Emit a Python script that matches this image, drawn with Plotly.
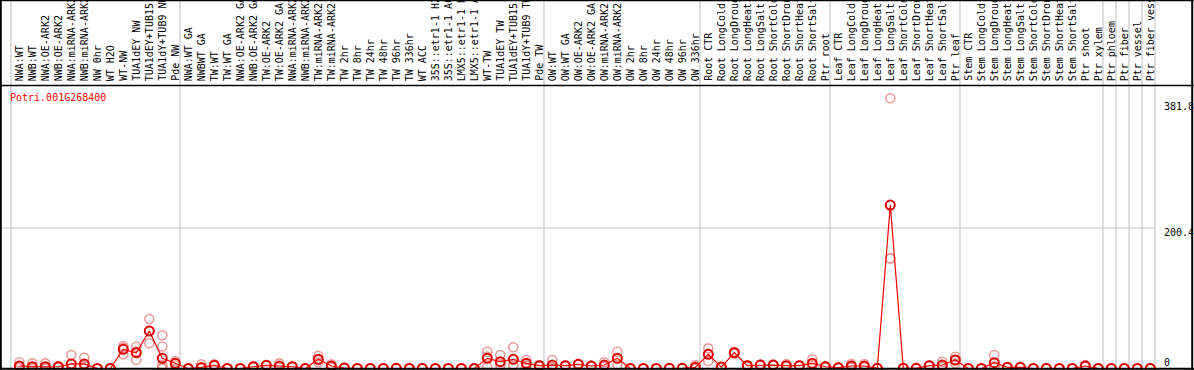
import plotly.graph_objects as go

gene_id = "Potri.001G268400"

group_sizes = [13, 28, 12, 10, 10, 11, 1, 1, 1, 1]

samples = [
    "NWA:WT", "NWB:WT", "NWA:OE-ARK2", "NWB:OE-ARK2", "NWA:miRNA-ARK2", "NWB:miRNA-ARK2",
    "NW 0hr", "WT H2O", "WT-NW", "TUA1dEY NW", "TUA1dEY+TUB15", "TUA1dY+TUB9 NW", "Pde NW",
    "NWA:WT GA", "NWBWT GA", "TW:WT", "TW:WT GA", "NWA:OE-ARK2 GA", "NWB:OE-ARK2 GA",
    "TW:OE-ARK2", "TW:OE-ARK2 GA", "NWA:miRNA-ARK2", "NWB:miRNA-ARK2", "TW:miRNA-ARK2",
    "TW:miRNA-ARK2", "TW 2hr", "TW 8hr", "TW 24hr", "TW 48hr", "TW 96hr", "TW 336hr",
    "WT ACC", "35S::etr1-1 H2O", "35S::etr1-1 ACC", "LMX5::etr1-1 H2O", "LMX5::etr1-1 ACC",
    "WT-TW", "TUA1dEY TW", "TUA1dEY+TUB15", "TUA1dY+TUB9 TW", "Pde TW",
    "OW:WT", "OW:WT GA", "OW:OE-ARK2", "OW:OE-ARK2 GA", "OW:miRNA-ARK2", "OW:miRNA-ARK2",
    "OW 2hr", "OW 8hr", "OW 24hr", "OW 48hr", "OW 96hr", "OW 336hr",
    "Root CTR", "Root LongCold", "Root LongDrought", "Root LongHeat", "Root LongSalt",
    "Root ShortCold", "Root ShortDrought", "Root ShortHeat", "Root ShortSalt", "Ptr root",
    "Leaf CTR", "Leaf LongCold", "Leaf LongDrought", "Leaf LongHeat", "Leaf LongSalt",
    "Leaf ShortCold", "Leaf ShortDrought", "Leaf ShortHeat", "Leaf ShortSalt", "Ptr leaf",
    "Stem CTR", "Stem LongCold", "Stem LongDrought", "Stem LongHeat", "Stem LongSalt",
    "Stem ShortCold", "Stem ShortDrought", "Stem ShortHeat", "Stem ShortSalt", "Ptr shoot",
    "Ptr xylem", "Ptr phloem", "Ptr fiber", "Ptr vessel", "Ptr fiber vessel",
]

means = [
    3.5, 2.5, 2.5, 2.5, 6.4, 6.4, 0, 0, 27.1, 22.3, 53.0, 14.4, 7.3,
    0, 1.5, 4.5, 0, 0, 2.5, 4.5, 3.5, 2.5, 0, 13.0, 3.5, 0.7, 0, 0, 0, 0.3, 0,
    0, 0, 0, 0, 0, 14.4, 9.6, 13.0, 7.3, 4.0,
    4.9, 4.0, 5.9, 3.5, 4.9, 14.4, 0, 0, 0, 0.2, 0.2, 1.6,
    20.0, 2.0, 22.3, 4.0, 4.9, 4.9, 4.0, 4.0, 7.3, 2.5,
    1.2, 3.5, 3.5, 0.2, 231.0, 0.2, 0.2, 4.0, 4.9, 12.0,
    0, 0, 8.2, 1.6, 1.6, 0, 0, 0, 0, 3.5, 0,
    0, 0, 0, 0,
]

replicates = [
    [8.8, 1.0, 0.7], [7.3, 0.2, 0], [7.3, 0.2, 0], [3.5, 2.5, 1.5], [19.0, 0.2, 0],
    [15.3, 3.9, 0], [0, 0, 0], [0, 0, 0], [31.8, 29.4, 20.1], [30.8, 24.0, 12.0],
    [70.0, 53.4, 35.6], [47.0, 31.0, 5.0, 3.0, 0, 0], [10.6, 7.0, 4.3],
    [0, 0, 0], [5.9, 0, 0], [5.9, 4.0, 3.6], [0, 0, 0], [0, 0, 0], [3.0, 2.5, 2.0],
    [5.0, 4.5, 4.0], [7.3, 2.0, 1.2], [3.0, 2.5, 2.0], [0, 0, 0], [18.1, 12.1, 8.8],
    [5.9, 3.0, 1.6], [1.0, 0.7, 0.4], [0, 0, 0], [0, 0, 0], [0, 0, 0], [0.5, 0.3, 0],
    [0, 0, 0], [0, 0, 0], [0, 0, 0], [0, 0, 0], [0, 0, 0], [0, 0, 0],
    [23.7, 17.0, 2.5], [19.0, 5.0, 4.8], [30.0, 5.0, 4.0], [12.0, 6.0, 4.0], [5.0, 4.0, 3.0],
    [12.0, 2.0, 0.7], [4.5, 4.0, 3.5], [6.5, 6.0, 5.2], [4.0, 3.5, 3.0], [8.8, 3.5, 2.4],
    [23.7, 14.6, 4.9], [0, 0, 0], [0, 0, 0], [0, 0, 0], [0.5, 0, 0], [0.5, 0, 0], [4.9, 0, 0],
    [28.5, 21.0, 10.6], [2.5, 2.0, 1.5], [23.7, 22.0, 21.2], [5.0, 4.0, 3.0], [5.5, 5.0, 4.2],
    [5.5, 4.9, 4.3], [6.4, 3.0, 2.6], [4.5, 4.0, 3.5], [13.0, 5.0, 3.9], [3.0, 2.5, 2.0],
    [1.5, 1.2, 0.9], [6.4, 2.5, 1.6], [6.4, 2.5, 1.6], [0.5, 0, 0], [381.8, 155.7, 155.5],
    [0.5, 0, 0], [0.5, 0, 0], [4.5, 4.0, 3.5], [9.6, 3.0, 2.1], [16.7, 12.0, 7.3],
    [0, 0, 0], [0, 0, 0], [19.0, 3.1, 2.5], [2.0, 1.6, 1.2], [2.0, 1.6, 1.2],
    [0, 0, 0], [0, 0, 0], [0, 0, 0], [0, 0, 0], [5.0, 3.0, 2.5], [0, 0, 0],
    [0, 0, 0], [0, 0, 0], [0, 0, 0], [0, 0, 0],
]

y_tick_labels = ["381.8", "200.4", "0"]

# ---------------------------------------------------------------- layout geometry
W, H = 1194, 370
COL = 13.0           # pixels per sample column
X0_PX = 19.3         # pixel of first sample centre
ZERO_PX = 368.5      # pixel row of value 0
PX_PER_UNIT = 0.7077

x_min = -X0_PX / COL
x_max = x_min + W / COL
y_min = -(H - ZERO_PX) / PX_PER_UNIT
y_max = y_min + H / PX_PER_UNIT


def px(x):
    return x / W


def py(y):
    return 1 - y / H


xs = list(range(len(samples)))

rep_x, rep_y = [], []
for i, reps in enumerate(replicates):
    for v in reps:
        rep_x.append(i)
        rep_y.append(v)

fig = go.Figure()
fig.add_trace(go.Scatter(
    x=rep_x, y=rep_y, mode="markers",
    marker=dict(symbol="circle-open", size=9, color="#ee9a9a", line=dict(width=1.6)),
    hoverinfo="skip", showlegend=False,
))
fig.add_trace(go.Scatter(
    x=xs, y=means, mode="lines+markers",
    line=dict(color="#ff0000", width=1.2),
    marker=dict(symbol="circle-open", size=9, color="#e00000", line=dict(width=2)),
    text=samples, showlegend=False,
))

shapes = []
GRAY = "#c8c8c8"
# group separators
b = 0
bounds = [0]
for s in group_sizes:
    b += s
    bounds.append(b)
for bd in bounds:
    shapes.append(dict(type="line", xref="x", yref="paper", x0=bd - 0.64, x1=bd - 0.64,
                       y0=0, y1=1, line=dict(color=GRAY, width=1.2), layer="below"))
# middle grid line
shapes.append(dict(type="line", xref="paper", yref="paper", x0=0, x1=px(1155),
                   y0=py(228), y1=py(228), line=dict(color=GRAY, width=1.2), layer="below"))
# header separator and borders
shapes.append(dict(type="line", xref="paper", yref="paper", x0=0, x1=1,
                   y0=py(85.5), y1=py(85.5), line=dict(color="black", width=1.5)))
shapes.append(dict(type="line", xref="paper", yref="paper", x0=0, x1=1,
                   y0=py(368.8), y1=py(368.8), line=dict(color="black", width=2)))
shapes.append(dict(type="line", xref="paper", yref="paper", x0=0, x1=1,
                   y0=py(0.5), y1=py(0.5), line=dict(color="black", width=1.5)))
shapes.append(dict(type="line", xref="paper", yref="paper", x0=px(0.8), x1=px(0.8),
                   y0=0, y1=1, line=dict(color="black", width=2)))
shapes.append(dict(type="line", xref="paper", yref="paper", x0=px(1192.2), x1=px(1192.2),
                   y0=0, y1=1, line=dict(color="black", width=2)))

annotations = []
MONO = "DejaVu Sans Mono"
for i, name in enumerate(samples):
    annotations.append(dict(
        x=i, y=py(83), xref="x", yref="paper", text=name, showarrow=False,
        textangle=-90, xanchor="center", yanchor="bottom",
        font=dict(family=MONO, size=10, color="black"),
    ))
annotations.append(dict(
    x=px(8), y=py(97.5), xref="paper", yref="paper", text=gene_id, showarrow=False,
    xanchor="left", yanchor="middle", font=dict(family=MONO, size=10, color="#ff0000"),
))
for lab, ypix in zip(y_tick_labels, [106.7, 232.5, 362]):
    annotations.append(dict(
        x=px(1162), y=py(ypix), xref="paper", yref="paper", text=lab, showarrow=False,
        xanchor="left", yanchor="middle", font=dict(family=MONO, size=10, color="black"),
    ))

fig.update_layout(
    width=W, height=H,
    margin=dict(l=0, r=0, t=0, b=0),
    paper_bgcolor="white", plot_bgcolor="white",
    xaxis=dict(range=[x_min, x_max], visible=False, domain=[0, 1]),
    yaxis=dict(range=[y_min, y_max], visible=False, domain=[0, 1]),
    shapes=shapes, annotations=annotations, showlegend=False,
)

fig.write_html(
    "out.html",
    config={"displayModeBar": False},
    post_script="document.body.style.margin='0px';document.body.style.overflow='hidden';",
)
